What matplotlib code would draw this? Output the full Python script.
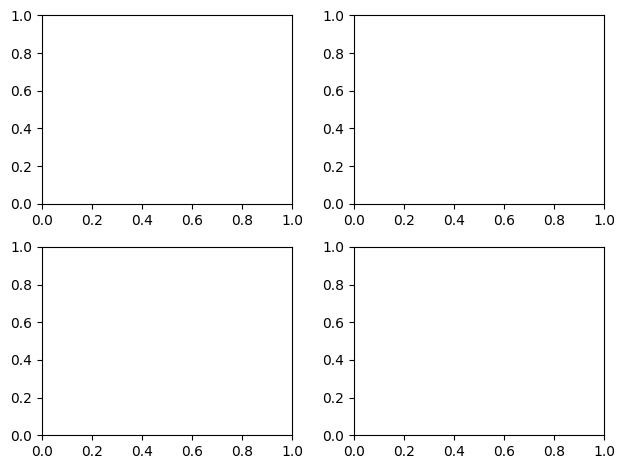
import matplotlib
matplotlib.use("Agg")
import matplotlib.pyplot as plt

# Empty 2x2 grid of axes, default limits 0..1
n_rows = 2
n_cols = 2

fig, axes = plt.subplots(n_rows, n_cols, figsize=(6.25, 4.69), dpi=100)

fig.tight_layout(pad=0.72, w_pad=1.37, h_pad=1.0)
fig.savefig("out.png", dpi=100)
